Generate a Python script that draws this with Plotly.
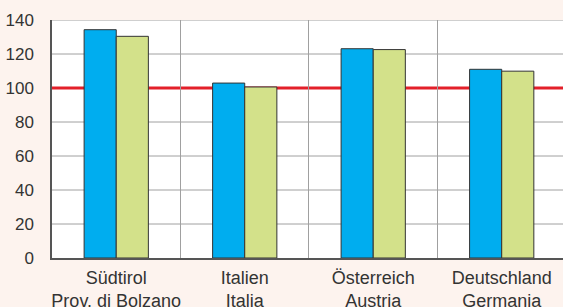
import plotly.graph_objects as go

categories = ["Südtirol<br>Prov. di Bolzano", "Italien<br>Italia", "Österreich<br>Austria", "Deutschland<br>Germania"]
series_a = [134.3, 102.9, 123.1, 111.0]
series_b = [130.4, 100.6, 122.6, 109.9]
reference_value = 100
y_ticks = [0, 20, 40, 60, 80, 100, 120, 140]

fig = go.Figure()
fig.add_trace(go.Bar(x=categories, y=series_a, marker=dict(color="#00ADEF", line=dict(color="#333333", width=1))))
fig.add_trace(go.Bar(x=categories, y=series_b, marker=dict(color="#D3E18A", line=dict(color="#333333", width=1))))

for v in y_ticks[1:]:
    fig.add_shape(type="line", xref="paper", x0=0, x1=1, yref="y", y0=v, y1=v,
                  line=dict(color="#A0A0A0", width=1), layer="between")
fig.add_shape(type="line", xref="paper", x0=0, x1=1, yref="y", y0=reference_value, y1=reference_value,
              line=dict(color="#E3202A", width=3), layer="between")

fig.update_layout(
    width=563, height=307,
    margin=dict(l=52, r=0, t=20, b=49, autoexpand=False),
    paper_bgcolor="#FDF3EE", plot_bgcolor="#FFFFFF",
    barmode="group", bargap=0.5, bargroupgap=0,
    showlegend=False,
    font=dict(family="Liberation Sans, Arial, sans-serif", color="#333333"),
)
fig.update_xaxes(
    range=[-0.5, 3.477], tickson="boundaries", showgrid=True, gridcolor="#A0A0A0", gridwidth=1,
    ticks="", tickfont=dict(size=18), tickangle=0, ticklabelstandoff=2,
    showline=True, linecolor="#555555", linewidth=2, automargin=False,
)
fig.update_yaxes(
    range=[0, 140], tickvals=y_ticks, showgrid=False,
    tickfont=dict(size=17), ticklabelstandoff=13, showline=True, linecolor="#555555", linewidth=1.5,
    zeroline=False, automargin=False,
)
fig.write_html("out.html", config={"displayModeBar": False},
               post_script="document.body.style.margin='0px';")
